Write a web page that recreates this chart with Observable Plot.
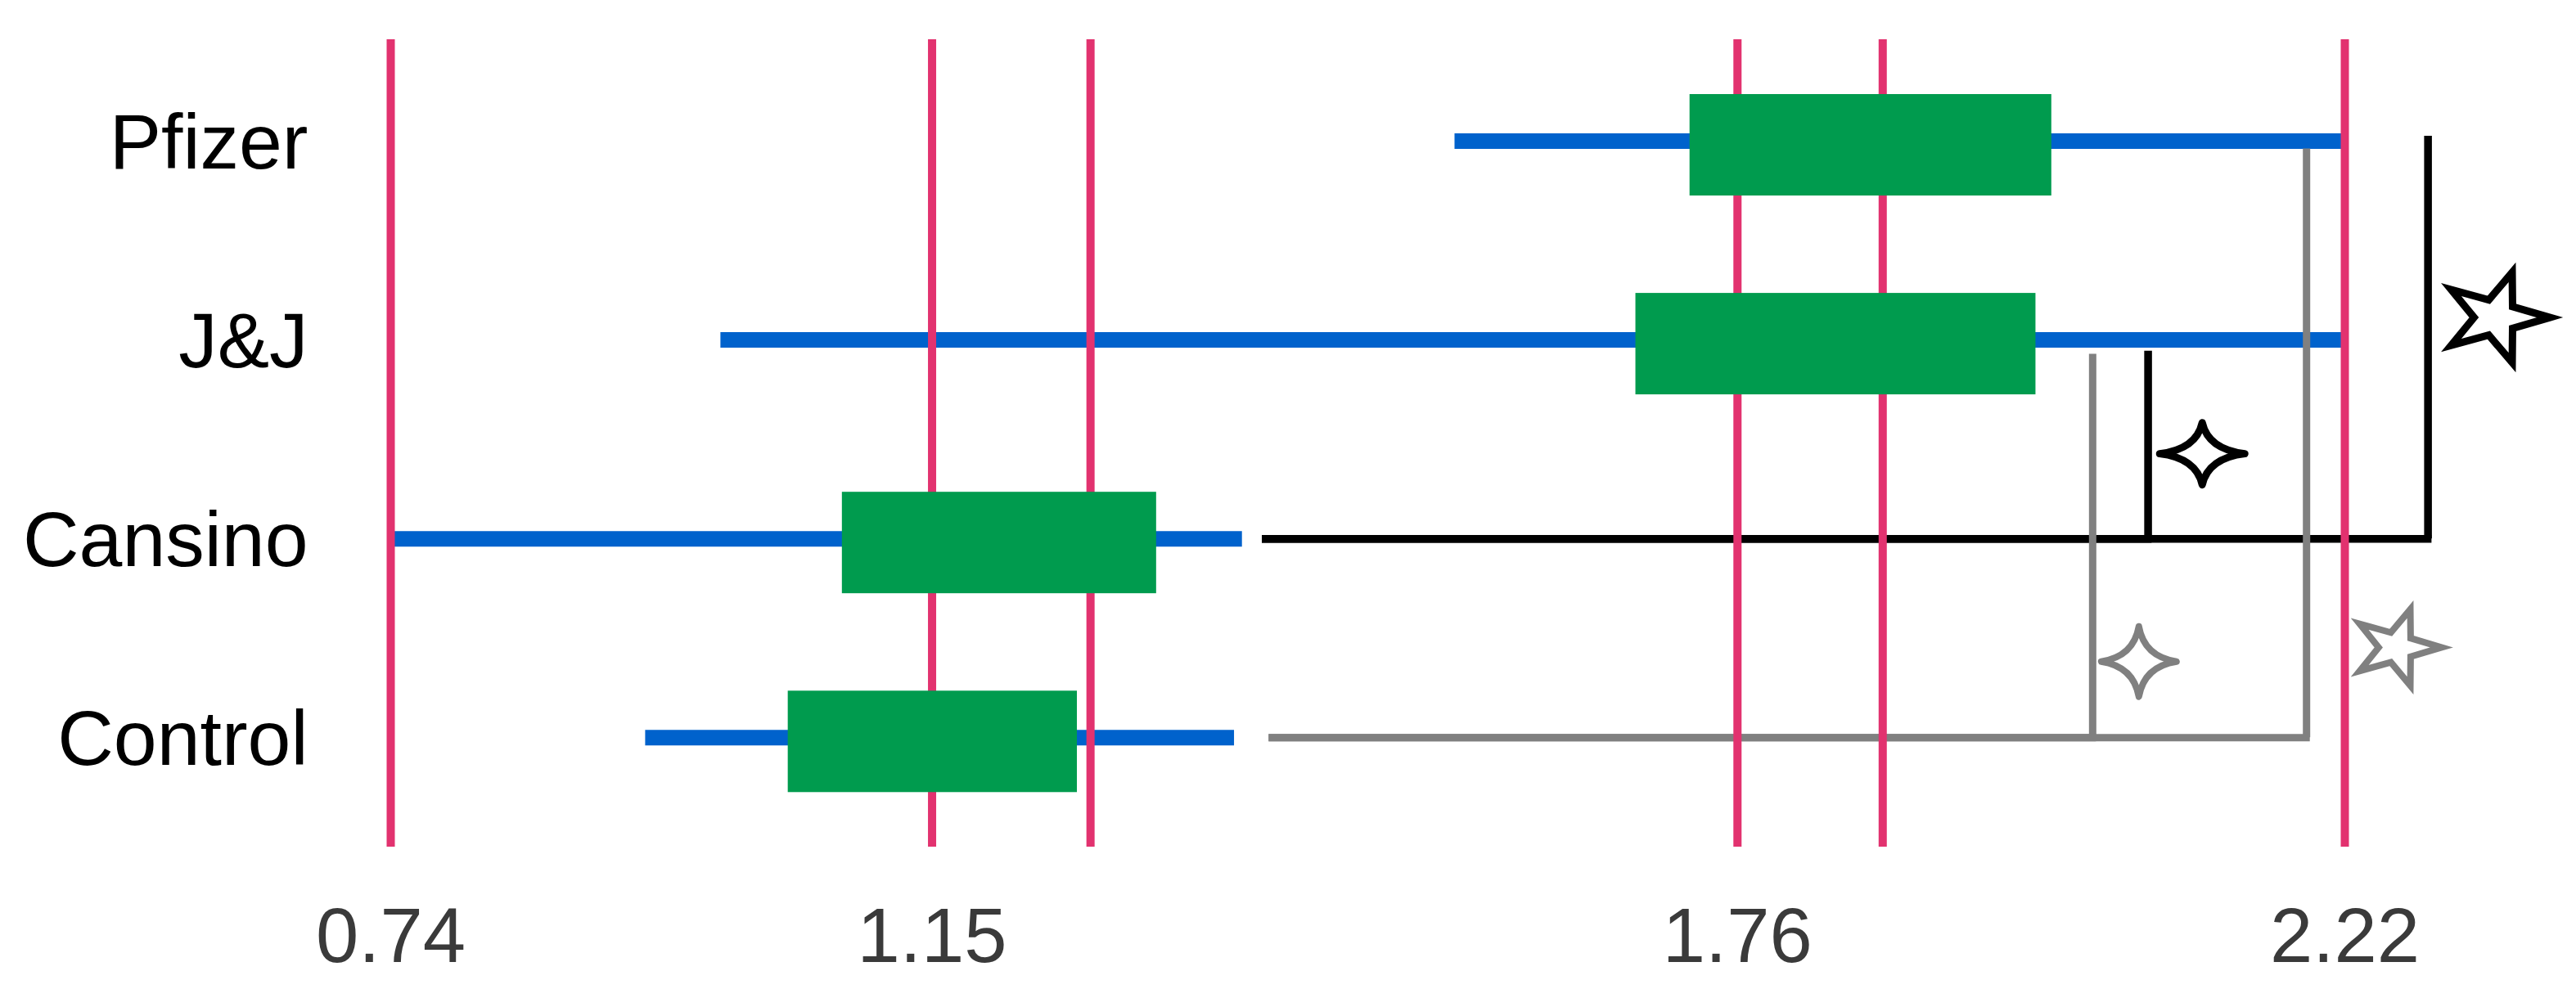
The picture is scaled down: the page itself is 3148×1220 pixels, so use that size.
<!DOCTYPE html>
<html>
<head>
<meta charset="utf-8">
<script src="https://cdn.jsdelivr.net/npm/d3@7"></script>
<script src="https://cdn.jsdelivr.net/npm/@observablehq/plot@0.6"></script>
<style>
  html, body { margin: 0; padding: 0; background: #fff; overflow: hidden; }
  #chart svg { display: block; }
</style>
</head>
<body>
<div id="chart"></div>
<script>
// ---- data ----
const categories   = ["Control", "Cansino", "J&J", "Pfizer"];   // row positions 1..4
const whiskerLow   = [0.933, 0.74, 0.99, 1.546];
const whiskerHigh  = [1.379, 1.385, 2.22, 2.22];
const boxLow       = [1.041, 1.082, 1.683, 1.724];
const boxHigh      = [1.260, 1.320, 1.986, 1.998];
const refLines     = [0.74, 1.15, 1.27, 1.76, 1.87, 2.22];
const tickValues   = [0.74, 1.15, 1.76, 2.22];

// significance brackets
const bracketFrom  = ["Cansino", "Cansino", "Control", "Control"];
const bracketTo    = ["Pfizer", "J&J", "Pfizer", "J&J"];
const bracketStart = [1.403, 1.403, 1.408, 1.408];
const bracketX     = [2.283, 2.071, 2.191, 2.029];
const bracketTop   = [4.025, 2.944, 3.961, 2.928];
const starX        = [2.334, 2.112, 2.259, 2.064];
const starY        = [3.113, 2.428, 1.454, 1.383];
const starKind     = ["five", "four", "five", "four"];

// ---- build tables ----
const pos = c => categories.indexOf(c) + 1;
const rows = categories.map((c, i) => ({
  cat: c, y: i + 1,
  wl: whiskerLow[i], wh: whiskerHigh[i],
  bl: boxLow[i], bh: boxHigh[i]
}));
const brackets = bracketFrom.map((f, i) => ({
  from: pos(f), to: pos(bracketTo[i]),
  x1: bracketStart[i], x: bracketX[i], top: bracketTop[i],
  sx: starX[i], sy: starY[i], kind: starKind[i],
  color: f === "Cansino" ? "#000000" : "#808080"
}));

// ---- custom symbols (styles) ----
function star5(R, sx) {
  return { draw(ctx) {
    for (let k = 0; k < 10; k++) {
      const r = k % 2 ? R * 0.39 : R;
      const a = k * Math.PI / 5;
      const x = sx * r * Math.cos(a), y = r * Math.sin(a);
      if (k === 0) ctx.moveTo(x, y); else ctx.lineTo(x, y);
    }
    ctx.closePath();
  }};
}
function sparkle(a, b, k) {
  return { draw(ctx) {
    ctx.moveTo(a, 0);
    ctx.quadraticCurveTo(k * a, -k * b, 0, -b);
    ctx.quadraticCurveTo(-k * a, -k * b, -a, 0);
    ctx.quadraticCurveTo(-k * a, k * b, 0, b);
    ctx.quadraticCurveTo(k * a, k * b, a, 0);
    ctx.closePath();
  }};
}
const starSymbols = [star5(58, 1.15), sparkle(52, 38, 0.14), star5(49, 1.13), sparkle(46, 43, 0.14)];
const starWidths = [9, 9, 8, 8];
const starJoins = ["miter", "round", "miter", "round"];

const PINK = "#E2326F", BLUE = "#0062CC", GREEN = "#009B4E";

const starMarks = brackets.map((b, i) =>
  Plot.dot([b], {x: "sx", y: "sy", symbol: starSymbols[i], r: 10,
    stroke: b.color, fill: "none", strokeWidth: starWidths[i], strokeLinejoin: starJoins[i], strokeMiterlimit: 6})
);

const chart = Plot.plot({
  width: 3148,
  height: 1220,
  marginLeft: 477,
  marginRight: 283,
  marginTop: 48,
  marginBottom: 185,
  x: {domain: [0.74, 2.22]},
  y: {domain: [0.45, 4.51]},
  style: {fontFamily: "'Liberation Sans', Arial, sans-serif", background: "#fff"},
  marks: [
    // whiskers
    Plot.ruleY(rows, {x1: "wl", x2: "wh", y: "y", stroke: BLUE, strokeWidth: 19}),
    // bracket horizontals
    Plot.ruleY(brackets, {x1: "x1", x2: "x", y: "from", stroke: "color", strokeWidth: d => d.color === "#000000" ? 9.5 : 9, strokeLinecap: "square"}),
    // bracket verticals
    Plot.ruleX(brackets, {x: "x", y1: "from", y2: "top", stroke: "color", strokeWidth: d => d.color === "#000000" ? 9.5 : 9}),
    // reference lines
    Plot.ruleX(refLines, {stroke: PINK, strokeWidth: 10}),
    // boxes
    Plot.rect(rows, {x1: "bl", x2: "bh", y1: d => d.y - 0.255, y2: d => d.y + 0.255, fill: GREEN, dy: 5}),
    ...starMarks,
    Plot.axisX({ticks: tickValues, tickSize: 0, tickPadding: 74, fontSize: 94, fill: "#3a3a3a",
      label: null, tickFormat: d => d.toFixed(2)}),
    Plot.axisY({ticks: [1, 2, 3, 4], tickFormat: i => categories[i - 1], tickSize: 0, tickPadding: 101,
      fontSize: 95, fill: "#000", label: null, dy: 3})
  ]
});
document.getElementById("chart").appendChild(chart);
</script>
</body>
</html>
